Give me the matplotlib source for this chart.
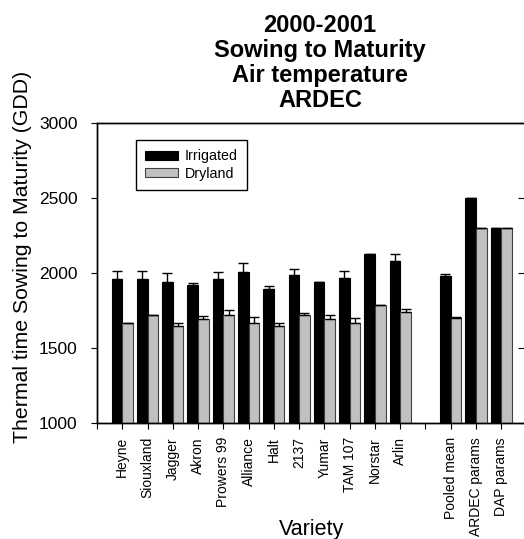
import numpy as np
import matplotlib
matplotlib.use("Agg")
import matplotlib.pyplot as plt

plt.rcParams['font.family'] = ['Liberation Sans', 'DejaVu Sans']

# valores
variedades = ["Heyne", "Siouxland", "Jagger", "Akron", "Prowers 99", "Alliance",
              "Halt", "2137", "Yumar", "TAM 107", "Norstar", "Arlin"]
resumo = ["Pooled mean", "ARDEC params", "DAP params"]

irrigado = [1965, 1965, 1942, 1920, 1965, 2009, 1898, 1987, 1942, 1967, 2127, 2080,
            1980, 2500, 2300]
irrigado_err = [50, 50, 60, 15, 46, 62, 18, 44, 0, 51, 0, 51,
                18, 0, 0]
sequeiro = [1671, 1720, 1647, 1693, 1720, 1671, 1647, 1720, 1693, 1671, 1791, 1745,
            1702, 2300, 2300]
sequeiro_err = [0, 0, 24, 23, 38, 36, 24, 18, 27, 31, 0, 20,
                6, 0, 0]

rotulos = variedades + resumo
# posicoes: variedades em 1..12, espaco vazio em 13, resumo em 14..16
pos = np.concatenate([np.arange(1, len(variedades) + 1),
                      np.arange(len(variedades) + 2, len(variedades) + 2 + len(resumo))])

W, H = 524, 539
fig = plt.figure(figsize=(W / 100, H / 100), dpi=100)
ax = fig.add_axes([97 / W, (H - 423.3) / H, (W - 97) / W, 300 / H])

larg = 0.42
zeros = np.zeros(len(pos))
ax.bar(pos - larg / 2, irrigado, width=larg, color="black", edgecolor="black",
       linewidth=0.8, label="Irrigated", zorder=2)
ax.bar(pos + larg / 2, sequeiro, width=larg, color="#c0c0c0", edgecolor="#404040",
       linewidth=0.8, label="Dryland", zorder=2)
ax.errorbar(pos - larg / 2, irrigado, yerr=[zeros, irrigado_err], fmt="none",
            ecolor="black", elinewidth=1, capsize=3.5, capthick=1, zorder=3)
ax.errorbar(pos + larg / 2, sequeiro, yerr=[zeros, sequeiro_err], fmt="none",
            ecolor="black", elinewidth=1, capsize=3.5, capthick=1, zorder=3)

ax.set_ylim(1000, 3000)
ax.set_xlim(0, 16.9)
ax.set_yticks([1000, 1500, 2000, 2500, 3000])
ax.tick_params(axis="y", direction="out", length=4, labelsize=12.5, pad=10)

todos_ticks = np.arange(0, 17)
ax.set_xticks(todos_ticks)
mapa = dict(zip(pos, rotulos))
ax.set_xticklabels([mapa.get(t, "") for t in todos_ticks], rotation=90, fontsize=10)
ax.tick_params(axis="x", direction="out", length=4, pad=6)

ax2 = ax.twinx()
ax2.set_ylim(1000, 3000)
ax2.set_yticks([1000, 1500, 2000, 2500, 3000])
ax2.tick_params(axis="y", direction="in", length=4, labelright=False)

for a in (ax, ax2):
    for s in a.spines.values():
        s.set_linewidth(1)
    a.spines["right"].set_visible(False)

leg = ax.legend(loc="upper left", bbox_to_anchor=(135.7 / W, (H - 140) / H),
                bbox_transform=fig.transFigure, fontsize=10.3, frameon=True,
                fancybox=False, edgecolor="black", framealpha=1,
                handlelength=2.3, handleheight=0.6, handletextpad=0.5,
                labelspacing=0.25, borderpad=0.65, borderaxespad=0)
leg.get_frame().set_linewidth(1)

fig.text(320 / W, 1 - 14 / H, "2000-2001\nSowing to Maturity\nAir temperature\nARDEC",
         ha="center", va="top", fontsize=17, fontweight="bold", linespacing=1.12)
fig.text(23 / W, 1 - 257 / H, "Thermal time Sowing to Maturity (GDD)",
         rotation=90, ha="center", va="center", fontsize=15.3)
fig.text(312 / W, 1 - 530 / H, "Variety", ha="center", va="center", fontsize=15.5)

fig.savefig("out.png", dpi=100)
